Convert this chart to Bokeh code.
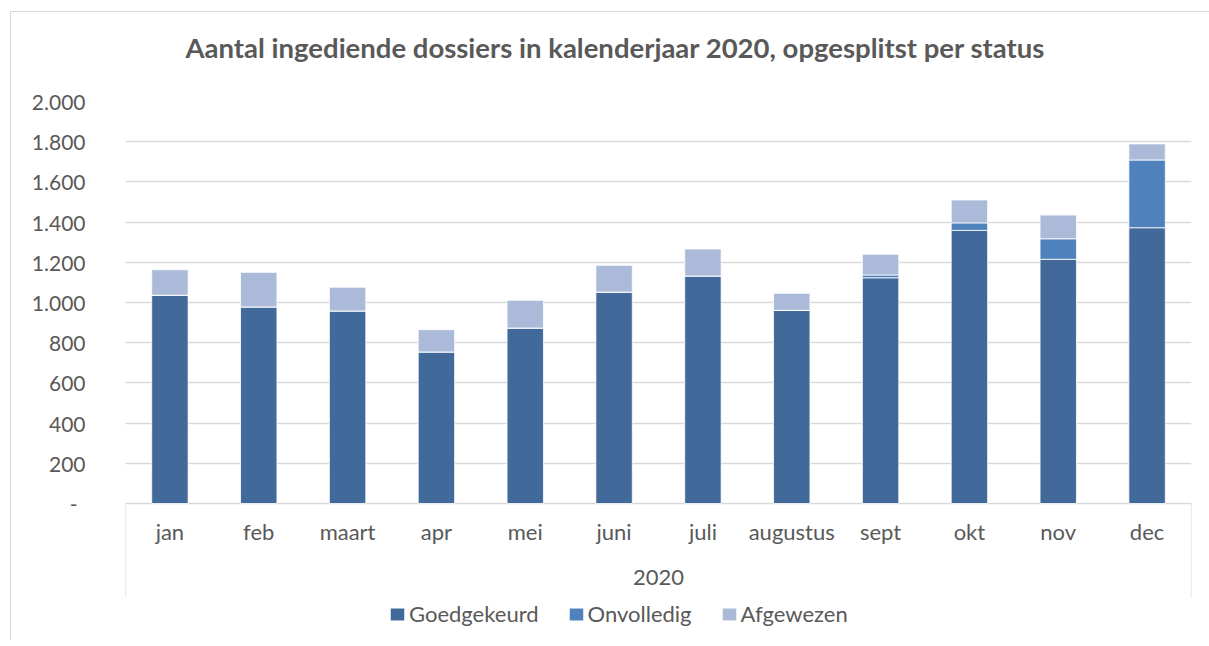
from bokeh.plotting import figure
from bokeh.models import (FactorRange, Range1d, FixedTicker, Legend, LegendItem,
                          Title, ColumnDataSource, CategoricalAxis)
from bokeh.embed import file_html
from bokeh.resources import INLINE

# ---- data -------------------------------------------------------------
year = "2020"
months = ["jan", "feb", "maart", "apr", "mei", "juni", "juli", "augustus",
          "sept", "okt", "nov", "dec"]
goedgekeurd = [1036, 978, 958, 754, 873, 1052, 1132, 961, 1123, 1359, 1215, 1372]
onvolledig = [0, 0, 0, 0, 0, 0, 0, 0, 14, 37, 102, 337]
afgewezen = [127, 172, 118, 111, 138, 133, 134, 85, 103, 114, 118, 80]
series = ["Goedgekeurd", "Onvolledig", "Afgewezen"]
y_ticks = [0, 200, 400, 600, 800, 1000, 1200, 1400, 1600, 1800, 2000]
y_tick_labels = ["-\u00a0\u2009", "200", "400", "600", "800", "1.000", "1.200",
                 "1.400", "1.600", "1.800", "2.000"]
title_text = "Aantal ingediende dossiers in kalenderjaar 2020, opgesplitst per status"

# ---- style / layout -----------------------------------------------------
colors = ["#41699a", "#4f81bd", "#abbad8"]
FONT = "Lato"
TXT = "#595959"
GRID = "#d9d9d9"
W, H = 1209, 640
TOP, ZERO = 101, 503            # pixel rows of the 2.000 and 0 gridlines
BOX_BOTTOM = 597                # bottom of the category-axis box
LABEL_ROW = 489                 # pixel row where the category labels hang from
y_max = y_ticks[-1]
units_per_px = y_max / (ZERO - TOP)
y_min = -(H - ZERO) * units_per_px
box_depth = -(BOX_BOTTOM - ZERO) * units_per_px
label_anchor = (ZERO - LABEL_ROW) * units_per_px

factors = [(year, m) for m in months]
src = ColumnDataSource(dict(x=factors, Goedgekeurd=goedgekeurd,
                            Onvolledig=onvolledig, Afgewezen=afgewezen))

p = figure(x_range=FactorRange(*factors, range_padding=0, factor_padding=0,
                               group_padding=0),
           y_range=Range1d(y_min, y_max), x_axis_location=None,
           width=W, height=H, output_backend="svg", toolbar_location=None,
           min_border_left=125, min_border_right=18, min_border_top=TOP,
           min_border_bottom=0)
p.outline_line_color = None
p.border_fill_color = None
p.background_fill_color = "white"
p.styles = {
    "background-color": "white",
    "background-image": f"linear-gradient({GRID}, {GRID}), linear-gradient({GRID}, {GRID})",
    "background-position": "10px 11px, 10px 11px",
    "background-size": "1px 1000px, 2000px 1px",
    "background-repeat": "no-repeat, no-repeat",
}

renderers = p.vbar_stack(series, x="x", width=0.41, color=colors,
                         line_color="white", line_width=0.8, source=src)

# y axis
p.yaxis.ticker = FixedTicker(ticks=y_ticks)
p.yaxis.major_label_overrides = {t: l for t, l in zip(y_ticks, y_tick_labels)}
p.yaxis.axis_line_color = None
p.yaxis.major_tick_line_color = None
p.yaxis.minor_tick_line_color = None
p.yaxis.major_label_standoff = 34
p.yaxis.major_label_text_font = FONT
p.yaxis.major_label_text_font_size = "21px"
p.yaxis.major_label_text_color = TXT
p.ygrid.grid_line_color = GRID          # the 0 gridline doubles as the category axis line
p.ygrid.grid_line_width = 1.3
p.xgrid.grid_line_color = None

# category axis (two levels)
xa = CategoricalAxis(fixed_location=label_anchor)
xa.axis_line_color = None
xa.major_tick_line_color = None
xa.major_label_standoff = 22
xa.major_label_text_font = FONT
xa.major_label_text_font_size = "22px"
xa.major_label_text_color = TXT
xa.group_text_font = FONT
xa.group_text_font_size = "22px"
xa.group_text_font_style = "normal"
xa.group_text_color = TXT
xa.separator_line_color = None
p.add_layout(xa, "below")

# vertical box lines at both ends of the category axis
n = len(months)
p.segment(x0=[0, n], y0=[0, 0], x1=[0, n], y1=[box_depth, box_depth],
          line_color=GRID, line_width=1.3)

# title (an empty spacer sits between the plot area and the title)
p.add_layout(Title(text=" ", text_font_size="1px", standoff=30), "above")
p.add_layout(Title(text=title_text, align="left", offset=60, standoff=10,
                   text_font=FONT, text_font_size="27.5px", text_font_style="bold",
                   text_color=TXT), "above")

# legend
legend = Legend(items=[LegendItem(label=s, renderers=[r]) for s, r in zip(series, renderers)],
                orientation="horizontal", location=(263, H - 627),
                glyph_width=18, glyph_height=16, label_standoff=3, spacing=28,
                label_text_font=FONT, label_text_font_size="22px", label_text_color=TXT,
                border_line_color=None, background_fill_alpha=0, padding=0, margin=0)
p.add_layout(legend)

open("out.html", "w").write(file_html(p, INLINE))
